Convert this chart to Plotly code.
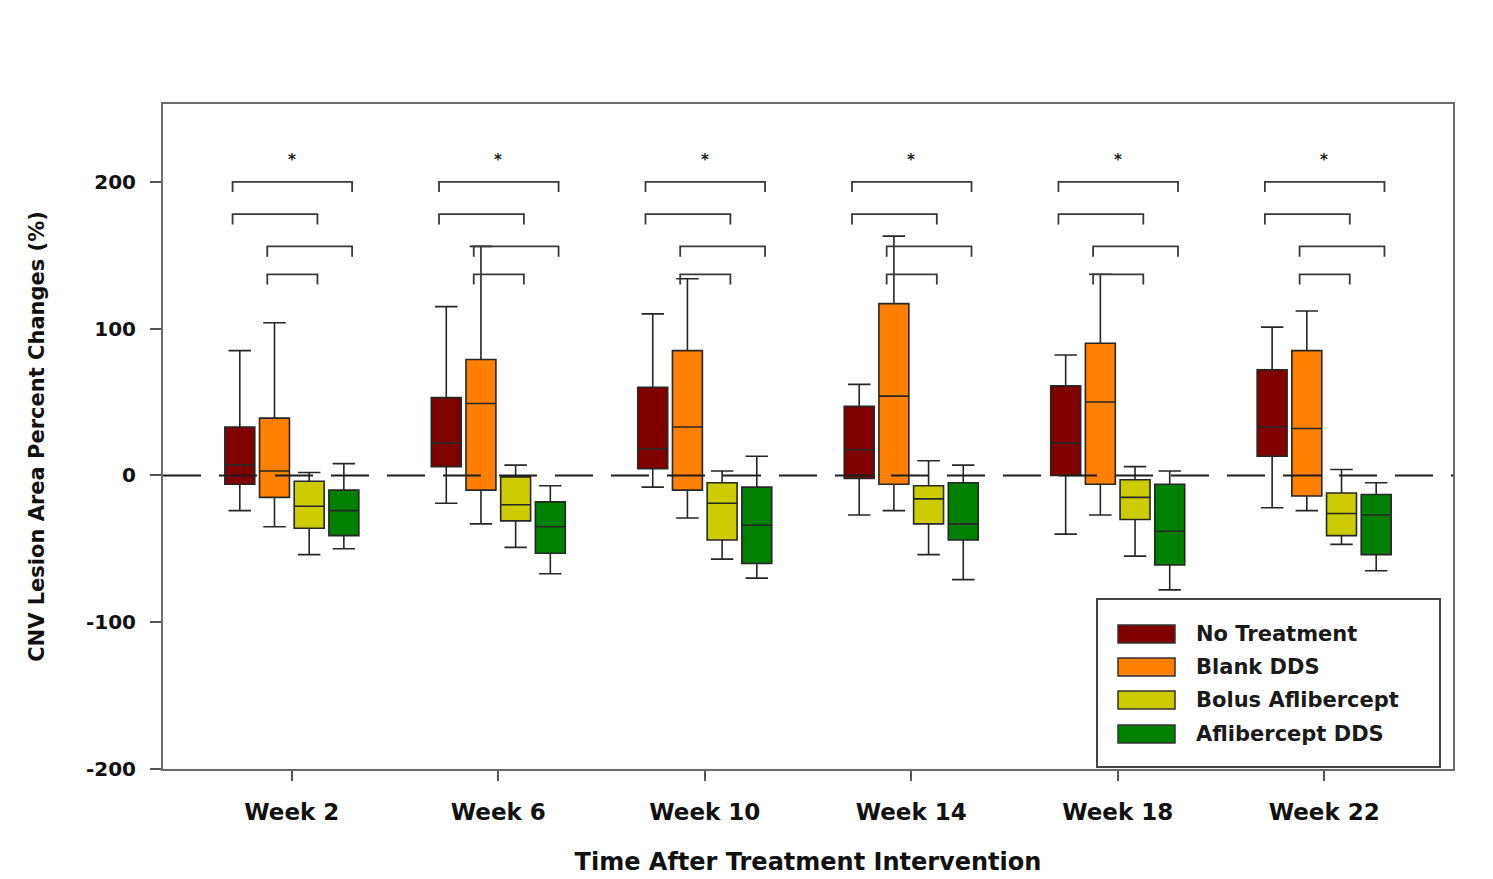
import plotly.graph_objects as go

weeks = ["Week 2", "Week 6", "Week 10", "Week 14", "Week 18", "Week 22"]
groups = ["No Treatment", "Blank DDS", "Bolus Aflibercept", "Aflibercept DDS"]
colors = ["#800000", "#ff8000", "#cccc00", "#008000"]

# box statistics per group (one value per week)
no_trt_low = [-24, -19, -8, -27, -40, -22]
no_trt_q1 = [-6, 6, 4.5, -2, 0, 13]
no_trt_med = [7, 22, 18, 17.5, 22, 33]
no_trt_q3 = [33, 53, 60, 47, 61, 72]
no_trt_up = [85, 115, 110, 62, 82, 101]

blank_low = [-35, -33, -29, -24, -27, -24]
blank_q1 = [-15, -10, -10, -6, -6, -14]
blank_med = [3, 49, 33, 54, 50, 32]
blank_q3 = [39, 79, 85, 117, 90, 85]
blank_up = [104, 156, 134, 163, 137, 112]

bolus_low = [-54, -49, -57, -54, -55, -47]
bolus_q1 = [-36, -31, -44, -33, -30, -41]
bolus_med = [-21, -20, -19, -16, -15, -26]
bolus_q3 = [-4, -1, -5, -7, -3, -12]
bolus_up = [2, 7, 3, 10, 6, 4]

afl_low = [-50, -67, -70, -71, -78, -65]
afl_q1 = [-41, -53, -60, -44, -61, -54]
afl_med = [-24, -35, -34, -33, -38, -27]
afl_q3 = [-10, -18, -8, -5, -6, -13]
afl_up = [8, -7, 13, 7, 3, -5]

# significance comparisons: (group i, group j, bracket height)
comparisons = [(0, 3, 200), (0, 2, 178), (1, 3, 156), (1, 2, 137)]
star_label = "*"
star_y = 215

yticks = [-200, -100, 0, 100, 200]
ytick_labels = ["-200", "-100", "0", "100", "200"]

stats = [
    (no_trt_low, no_trt_q1, no_trt_med, no_trt_q3, no_trt_up),
    (blank_low, blank_q1, blank_med, blank_q3, blank_up),
    (bolus_low, bolus_q1, bolus_med, bolus_q3, bolus_up),
    (afl_low, afl_q1, afl_med, afl_q3, afl_up),
]

xpos = list(range(len(weeks)))
BOXGAP = 0.328
GROUPGAP = 0.137

fig = go.Figure()
for g, (lo, q1, med, q3, up) in enumerate(stats):
    fig.add_trace(go.Box(
        x=xpos, lowerfence=lo, q1=q1, median=med, q3=q3, upperfence=up,
        name=groups[g], fillcolor=colors[g],
        line=dict(color="#262626", width=1.6),
        whiskerwidth=0.75, boxpoints=False, showlegend=False,
        hoverinfo="y+name",
    ))

# group offsets implied by boxmode='group'
n = len(groups)
offsets = [(-0.5 + (k + 0.5) / n) * (1 - BOXGAP) for k in range(n)]

shapes = []
annotations = []
leg = 7
for w in xpos:
    for (i, j, yb) in comparisons:
        xa = w + offsets[i] - 0.035
        xb = w + offsets[j] + 0.04
        shapes.append(dict(
            type="path", xref="x", yref="y",
            path=f"M {xa},{yb-leg} L {xa},{yb} L {xb},{yb} L {xb},{yb-leg}",
            line=dict(color="#3a3a3a", width=1.8), layer="above"))
    annotations.append(dict(
        x=w + (offsets[0] + offsets[3]) / 2, y=star_y, xref="x", yref="y",
        text=star_label, showarrow=False, yanchor="middle",
        font=dict(family="DejaVu Sans", size=15, color="#222", weight="bold")))

# zero reference line
shapes.append(dict(type="line", xref="paper", yref="y", x0=0, x1=1, y0=0, y1=0,
                   line=dict(color="#1e1e1e", width=2, dash="38px,18px"), layer="above"))

# page offset (body margin) is 8px; positions below are page pixels
PAGE_OFF = 8
L, T, R, B = 163, 104, 1453, 769


def px_x(p):
    return (p - L) / (R - L)


def px_y(p):
    return (B - p) / (B - T)


# legend (drawn in paper coordinates)
shapes.append(dict(type="rect", xref="paper", yref="paper",
                   x0=px_x(1097), x1=px_x(1440), y0=px_y(767), y1=px_y(599),
                   fillcolor="white", line=dict(color="#444", width=2), layer="above"))
row_y = [634, 667, 700, 734]
for k in range(n):
    yc = row_y[k]
    shapes.append(dict(type="rect", xref="paper", yref="paper",
                       x0=px_x(1118), x1=px_x(1175), y0=px_y(yc + 9), y1=px_y(yc - 9),
                       fillcolor=colors[k], line=dict(color="#333", width=1.5), layer="above"))
    annotations.append(dict(
        x=px_x(1194), y=px_y(yc), xref="paper", yref="paper", text=groups[k],
        showarrow=False, xanchor="left", yanchor="middle",
        font=dict(family="DejaVu Sans", size=21, color="#1a1a1a", weight="bold")))

fig.update_layout(
    width=1493 - PAGE_OFF, height=879 - PAGE_OFF,
    margin=dict(l=L - PAGE_OFF, r=1493 - R, t=T - PAGE_OFF, b=879 - B),
    paper_bgcolor="white", plot_bgcolor="white",
    boxmode="group", boxgap=BOXGAP, boxgroupgap=GROUPGAP,
    shapes=shapes, annotations=annotations,
    xaxis=dict(
        range=[-0.624, 5.624], tickmode="array", tickvals=xpos, ticktext=weeks,
        showgrid=False, zeroline=False, automargin=False,
        showline=True, linecolor="#6a6a6a", linewidth=2, mirror=True,
        ticks="outside", ticklen=10, tickwidth=1.5, tickcolor="#555",
        ticklabelstandoff=11,
        tickfont=dict(family="DejaVu Sans", size=23, color="#111", weight="bold"),
        title=dict(text="Time After Treatment Intervention", standoff=30,
                   font=dict(family="DejaVu Sans", size=24, color="#111", weight="bold")),
    ),
    yaxis=dict(
        range=[-200, 253], tickmode="array", tickvals=yticks, ticktext=ytick_labels,
        showgrid=False, zeroline=False, automargin=False,
        showline=True, linecolor="#6a6a6a", linewidth=2, mirror=True,
        ticks="outside", ticklen=11, tickwidth=1.5, tickcolor="#555",
        ticklabelstandoff=10,
        tickfont=dict(family="DejaVu Sans", size=20, color="#111", weight="bold"),
        title=dict(text="CNV Lesion Area Percent Changes (%)", standoff=36,
                   font=dict(family="DejaVu Sans", size=21, color="#111", weight="bold")),
    ),
)

fig.write_html("out.html")
